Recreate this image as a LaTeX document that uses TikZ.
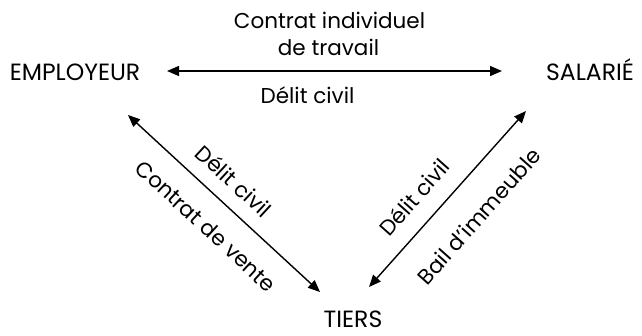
\documentclass[tikz,border=0pt]{standalone}
\usepackage{fontspec}
\setmainfont{Poppins}
\usetikzlibrary{arrows.meta}
\begin{document}
\begin{tikzpicture}[x=1pt,y=-1pt,
  capbox/.style={font=\fontsize{23.5}{28}\selectfont, inner sep=0pt},
  lbl/.style={font=\fontsize{21.5}{26}\selectfont, inner sep=0pt},
  arr/.style={line width=1.4pt, {Triangle[length=12pt,width=10pt]}-{Triangle[length=12pt,width=10pt]}}]
\useasboundingbox (0,0) rectangle (642,335);
\node[capbox, anchor=base] (emp) at (75,80) {EMPLOYEUR};
\node[capbox, anchor=base] (sal) at (590,80) {SALARIÉ};
\node[capbox, anchor=base] (tiers) at (353,327) {TIERS};
\coordinate (h1) at (167,71);
\coordinate (h2) at (502,71);
\coordinate (l1) at (128,115);
\coordinate (l2) at (320,292);
\coordinate (r1) at (369,287);
\coordinate (r2) at (526,111);
\draw[arr] (h1) -- (h2);
\draw[arr] (l1) -- (l2);
\draw[arr] (r1) -- (r2);
\node[lbl, anchor=base] (t1) at (329.5,28) {Contrat individuel};
\node[lbl, anchor=base] (t2) at (328.5,55) {de travail};
\node[lbl, anchor=base] (t3) at (307.5,103) {Délit civil};
\node[lbl, rotate=-42.7] (t4) at (234,181) {Délit civil};
\node[lbl, rotate=-42.7] (t5) at (206,226) {Contrat de vente};
\node[lbl, rotate=48.3] (t6) at (414,197) {Délit civil};
\node[lbl, rotate=48.3] (t7) at (479,216) {Bail d'immeuble};
\end{tikzpicture}
\end{document}
